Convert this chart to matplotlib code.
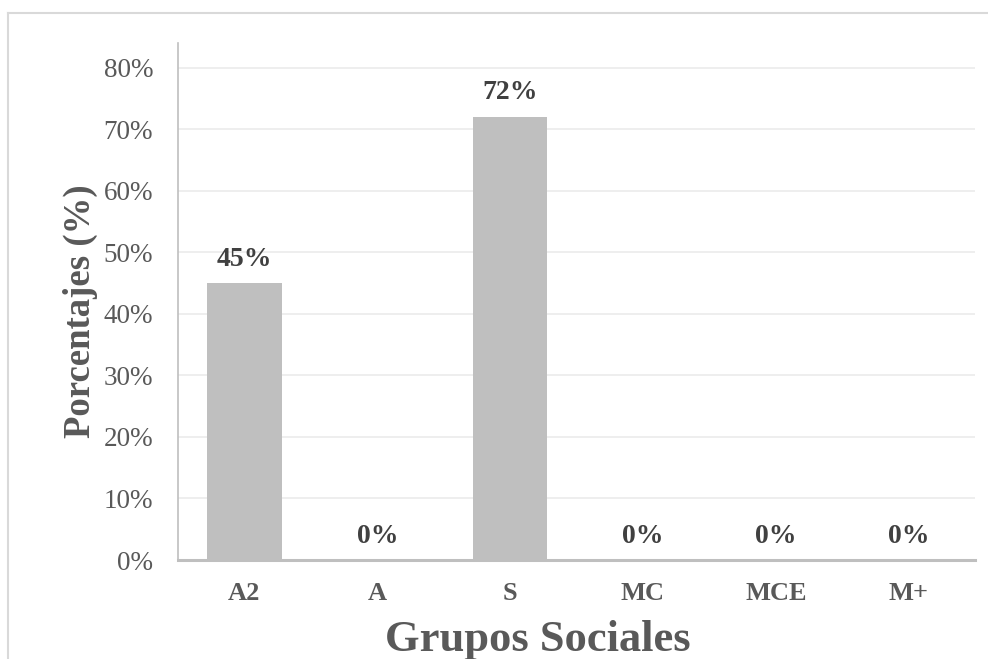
import matplotlib
matplotlib.use("Agg")
import matplotlib.pyplot as plt
from matplotlib.lines import Line2D
from matplotlib.ticker import FuncFormatter

# Data
grupos = ["A2", "A", "S", "MC", "MCE", "M+"]
porcentajes = [0.45, 0.0, 0.72, 0.0, 0.0, 0.0]
y_ticks = [0.0, 0.1, 0.2, 0.3, 0.4, 0.5, 0.6, 0.7, 0.8]

plt.rcParams["font.family"] = ["Liberation Serif", "DejaVu Serif"]

W, H = 988, 659
fig = plt.figure(figsize=(W / 100, H / 100), dpi=100)

# Chart-area frame: top and left edges only (the rest runs off the canvas)
frame_kw = dict(transform=fig.transFigure, color="#D9D9D9", linewidth=1.5)
fig.lines.append(Line2D([8 / W, 1.0], [1 - 13 / H, 1 - 13 / H], **frame_kw))
fig.lines.append(Line2D([8 / W, 8 / W], [0.0, 1 - 13 / H], **frame_kw))

ax = fig.add_axes([178 / W, 1 - 560 / H, (975 - 178) / W, (560 - 43) / H])

x = range(len(grupos))
ax.bar(x, porcentajes, width=0.56, color="#BFBFBF", zorder=2)
ax.set_xlim(-0.5, len(grupos) - 0.5)
ax.set_ylim(0, 0.84)

ax.set_yticks(y_ticks)
ax.yaxis.set_major_formatter(FuncFormatter(lambda v, _: f"{v * 100:.0f}%"))
ax.yaxis.grid(True, color="#EDEDED", linewidth=1.3, zorder=0)
ax.set_axisbelow(True)

ax.set_xticks(list(x))
ax.set_xticklabels(grupos, fontweight="bold", fontsize=19, color="#595959")
ax.tick_params(axis="x", length=0, pad=16)
ax.tick_params(axis="y", length=0, pad=18, labelsize=19.5, labelcolor="#595959")

for s in ["top", "right"]:
    ax.spines[s].set_visible(False)
ax.spines["left"].set_color("#BFBFBF")
ax.spines["left"].set_linewidth(1.2)
ax.spines["bottom"].set_color("#BFBFBF")
ax.spines["bottom"].set_linewidth(2.2)

for xi, v in zip(x, porcentajes):
    ax.annotate(f"{v * 100:.0f}%", (xi, v), xytext=(0, 12.5),
                textcoords="offset points", ha="center", va="baseline",
                fontsize=20, fontweight="bold", color="#404040")

fig.text(80 / W, 1 - 311 / H, "Porcentajes (%)", rotation=90,
         ha="center", va="center", fontsize=26.5, fontweight="bold",
         color="#595959")
fig.text(538 / W, 1 - 651 / H, "Grupos Sociales", ha="center",
         va="baseline", fontsize=32, fontweight="bold", color="#595959")

fig.savefig("out.png", dpi=100, facecolor="white")
